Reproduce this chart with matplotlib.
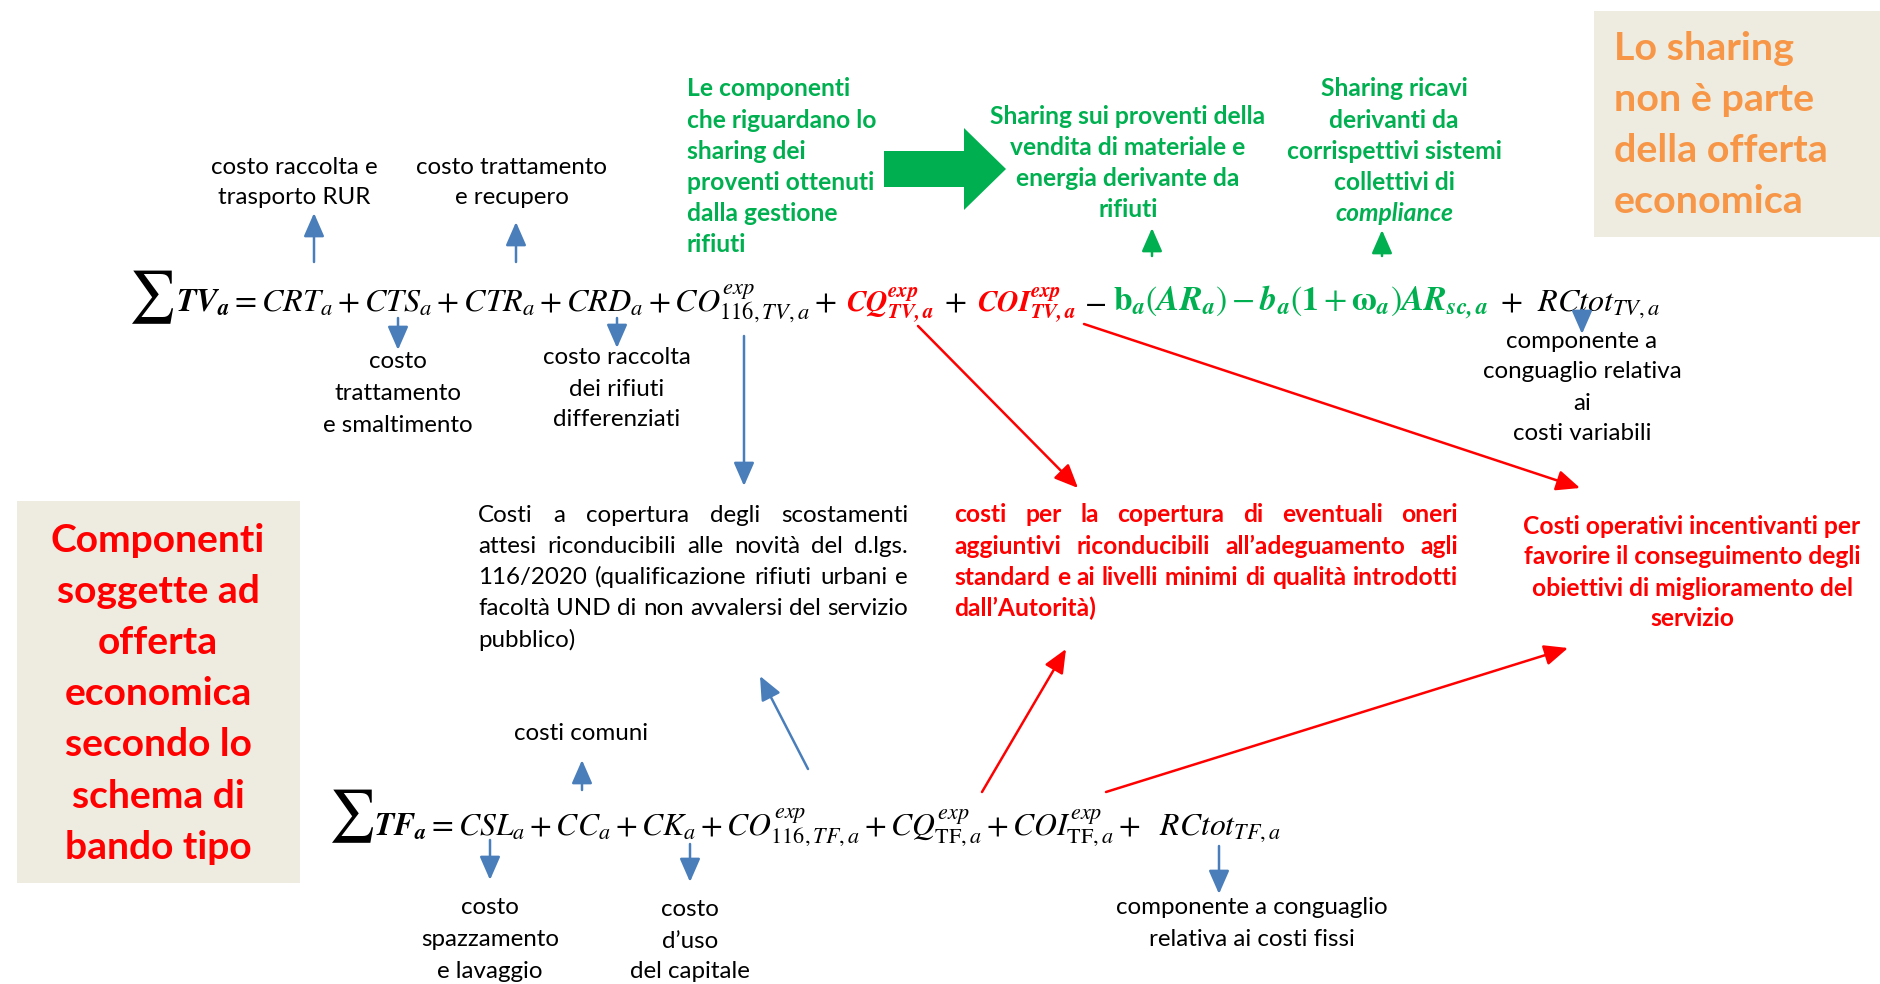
import matplotlib
matplotlib.use("Agg")
import matplotlib.pyplot as plt
from matplotlib.patches import Rectangle, FancyArrow

plt.rcParams['mathtext.fontset'] = 'stix'
FONT = 'Lato'

# ---------------- text content ----------------
left_box_lines = ["Componenti", "soggette ad", "offerta", "economica", "secondo lo", "schema di", "bando tipo"]
right_box_lines = ["Lo sharing", "non è parte", "della offerta", "economica"]
green_intro = ["Le componenti", "che riguardano lo", "sharing dei", "proventi ottenuti", "dalla gestione", "rifiuti"]
green_sharing1 = ["Sharing sui proventi della", "vendita di materiale e", "energia derivante da", "rifiuti"]
green_sharing2 = ["Sharing ricavi", "derivanti da", "corrispettivi sistemi", "collettivi di"]
green_sharing2_it = "compliance"
lbl_crt = ["costo raccolta e", "trasporto RUR"]
lbl_ctr = ["costo trattamento", "e recupero"]
lbl_cts = ["costo", "trattamento", "e smaltimento"]
lbl_crd = ["costo raccolta", "dei rifiuti", "differenziati"]
lbl_rctv = ["componente a", "conguaglio relativa", "ai", "costi variabili"]
txt_co116 = ["Costi a copertura degli scostamenti",
             "attesi riconducibili alle novità del d.lgs.",
             "116/2020 (qualificazione rifiuti urbani e",
             "facoltà UND di non avvalersi del servizio",
             "pubblico)"]
txt_cq = ["costi per la copertura di eventuali oneri",
          "aggiuntivi riconducibili all’adeguamento agli",
          "standard e ai livelli minimi di qualità introdotti",
          "dall’Autorità)"]
txt_coi = ["Costi operativi incentivanti per", "favorire il conseguimento degli",
           "obiettivi di miglioramento del", "servizio"]
lbl_cc = ["costi comuni"]
lbl_csl = ["costo", "spazzamento", "e lavaggio"]
lbl_ck = ["costo", "d’uso", "del capitale"]
lbl_rctf = ["componente a conguaglio", "relativa ai costi fissi"]

eq_tv_black = r"$\mathbfit{TV}_{\mathbfit{a}} = CRT_a + CTS_a + CTR_a + CRD_a + CO^{exp}_{116,TV,a} +$"
eq_tv_cq = r"$\mathbfit{CQ}^{\mathbfit{exp}}_{\mathbfit{TV,a}}$"
eq_tv_plus = r"$+$"
eq_tv_coi = r"$\mathbfit{COI}^{\mathbfit{exp}}_{\mathbfit{TV,a}}$"
eq_tv_minus = r"$-$"
eq_tv_green = r"$\mathbf{b}_{\mathbfit{a}}(\mathbfit{AR}_{\mathbfit{a}}) - \mathbfit{b}_{\mathbfit{a}}(\mathbf{1} + \mathbf{\omega}_{\mathbfit{a}})\mathbfit{AR}_{\mathbfit{sc,a}}$"
eq_tv_rc = r"$+\ \ RCtot_{TV,a}$"
eq_tf = r"$\mathbfit{TF}_{\mathbfit{a}} = CSL_a + CC_a + CK_a + CO^{exp}_{116,TF,a} + CQ^{exp}_{\mathrm{TF},a} + COI^{exp}_{\mathrm{TF},a} +\ \ RCtot_{TF,a}$"

# ---------------- colours ----------------
BLUE = '#4A7EBB'
GREEN = '#00B050'
RED = '#FF0000'
ORANGE = '#F79646'
BOXBG = '#EEECE1'

fig = plt.figure(figsize=(18.8, 9.84), dpi=100)
ax = fig.add_axes([0, 0, 1, 1])
ax.set_xlim(0, 1880)
ax.set_ylim(984, 0)
ax.axis('off')
renderer = fig.canvas.get_renderer()


def width(s, **kw):
    t = ax.text(0, 0, s, **kw)
    w = t.get_window_extent(renderer=renderer).width
    t.remove()
    return w


def fit(s, target, **kw):
    w = width(s, fontsize=10, **kw)
    return 10 * target / w


def lines(x, y0, dy, ls, ha='center', **kw):
    for i, l in enumerate(ls):
        ax.text(x, y0 + i * dy, l, ha=ha, va='center', **kw)


def justify(ls, x0, x1, y0, dy, **kw):
    for i, l in enumerate(ls):
        y = y0 + i * dy
        words = l.split()
        if i == len(ls) - 1 or len(words) == 1:
            ax.text(x0, y, l, ha='left', va='center', **kw)
            continue
        ws = [width(w, **kw) for w in words]
        gap = (x1 - x0 - sum(ws)) / (len(words) - 1)
        x = x0
        for w, wd in zip(words, ws):
            ax.text(x, y, w, ha='left', va='center', **kw)
            x += wd + gap


def arrow(p0, p1, color, lw=1.8, ms=18):
    ax.annotate('', xy=p1, xytext=p0,
                arrowprops=dict(arrowstyle='-|>,head_length=0.8,head_width=0.35',
                                color=color, lw=lw, shrinkA=0, shrinkB=0,
                                mutation_scale=ms))


# ---------------- boxes ----------------
ax.add_patch(Rectangle((17, 501), 283, 382, fc=BOXBG, ec='none'))
ax.add_patch(Rectangle((1594, 11), 286, 226, fc=BOXBG, ec='none'))

fs_big = fit("Componenti", 215, family=FONT, fontweight='bold')
lines(158, 540, 51.2, left_box_lines, family=FONT, fontweight='bold', color=RED, fontsize=fs_big)
fs_or = fit("della offerta", 215, family=FONT, fontweight='bold')
lines(1614, 48, 51.3, right_box_lines, ha='left', family=FONT, fontweight='bold', color=ORANGE, fontsize=fs_or)

# ---------------- green texts ----------------
fs_g = fit("proventi ottenuti", 188, family=FONT, fontweight='bold')
gkw = dict(family=FONT, fontweight='bold', color=GREEN, fontsize=fs_g)
lines(687, 89, 31.2, green_intro, ha='left', **gkw)
lines(1128, 116, 31.3, green_sharing1, **gkw)
lines(1394, 89, 31.2, green_sharing2, **gkw)
ax.text(1394, 89 + 4 * 31.2, green_sharing2_it, ha='center', va='center', style='italic', **gkw)
ax.add_patch(FancyArrow(884, 169, 122, 0, width=36, head_width=82, head_length=42,
                        length_includes_head=True, color=GREEN, lw=0))

# ---------------- black labels ----------------
fs_l = fit("costo trattamento", 192, family=FONT)
bkw = dict(family=FONT, color='black', fontsize=fs_l)
lines(294, 167, 31, lbl_crt, **bkw)
lines(512, 167, 31, lbl_ctr, **bkw)
lines(398, 362, 31.5, lbl_cts, **bkw)
lines(617, 358, 31, lbl_crd, **bkw)
lines(1582, 341, 31, lbl_rctv, **bkw)
lines(581, 733, 31, lbl_cc, **bkw)
lines(490, 908, 31.5, lbl_csl, **bkw)
lines(690, 910, 31, lbl_ck, **bkw)
lines(1252, 908, 32, lbl_rctf, **bkw)

justify(txt_co116, 478, 908, 515, 31.2, **bkw)
rkw = dict(family=FONT, fontweight='bold', color=RED, fontsize=fs_g)
justify(txt_cq, 954, 1458, 515, 31.2, **rkw)
lines(1692, 526, 31, txt_coi, **rkw)

# ---------------- equations ----------------
fs_eq = fit(eq_tv_black, 664)
fs_green = fit(eq_tv_green, 378)
fs_tf = fit(eq_tf, 910)
ax.text(128, 297, r"$\sum$", fontsize=fs_eq * 1.6, ha='left', va='center', color='black')
ax.text(176, 311, eq_tv_black, fontsize=fs_eq, ha='left', va='baseline', color='black')
ax.text(846, 311, eq_tv_cq, fontsize=fs_eq * 0.92, ha='left', va='baseline', color=RED)
ax.text(944, 311, eq_tv_plus, fontsize=fs_eq, ha='left', va='baseline', color='black')
ax.text(977, 311, eq_tv_coi, fontsize=fs_eq * 0.92, ha='left', va='baseline', color=RED)
ax.text(1084, 311, eq_tv_minus, fontsize=fs_eq, ha='left', va='baseline', color='black')
ax.text(1113, 311, eq_tv_green, fontsize=fs_green, ha='left', va='baseline', color=GREEN)
ax.text(1500, 311, eq_tv_rc, fontsize=fs_eq, ha='left', va='baseline', color='black')

ax.text(328, 816, r"$\sum$", fontsize=fs_eq * 1.6, ha='left', va='center', color='black')
ax.text(374, 835, eq_tf, fontsize=fs_tf, ha='left', va='baseline', color='black')

# ---------------- arrows ----------------
arrow((314, 262), (314, 213), BLUE)
arrow((516, 262), (516, 222), BLUE)
arrow((398, 318), (398, 350), BLUE)
arrow((617, 318), (617, 348), BLUE)
arrow((744, 336), (744, 486), BLUE)
arrow((1582, 310), (1582, 334), BLUE)
arrow((1152, 256), (1152, 228), GREEN)
arrow((1382, 256), (1382, 230), GREEN)
arrow((918, 326), (1078, 488), RED)
arrow((1084, 324), (1580, 488), RED)
arrow((582, 790), (582, 760), BLUE)
arrow((808, 769), (760, 676), BLUE)
arrow((982, 792), (1066, 649), RED)
arrow((1106, 792), (1568, 648), RED)
arrow((490, 840), (490, 880), BLUE)
arrow((690, 844), (690, 882), BLUE)
arrow((1219, 846), (1219, 894), BLUE)

fig.savefig('out.png', dpi=100)
